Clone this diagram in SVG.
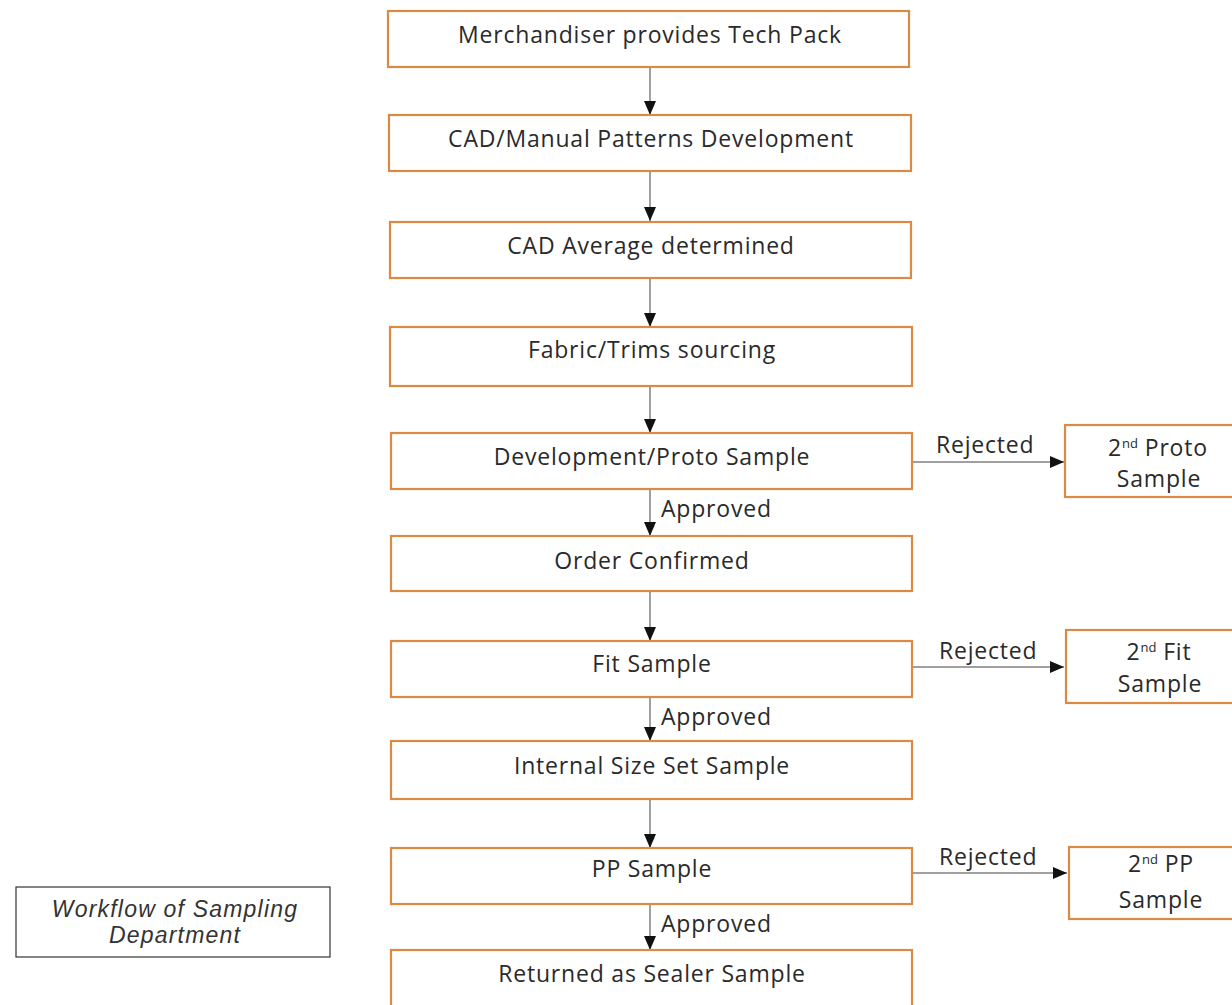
<svg xmlns="http://www.w3.org/2000/svg" width="1232" height="1005" viewBox="0 0 1232 1005">
<defs>
<style>
.box{fill:#fff;stroke:#DB8A44;stroke-width:2.2}
.t{font-family:"Open Sans","Noto Sans",sans-serif;font-size:23px;letter-spacing:0.8px;fill:#2a2a2a;text-anchor:middle}
.lbl{font-family:"Open Sans","Noto Sans",sans-serif;font-size:23px;letter-spacing:0.8px;fill:#2a2a2a}
.ln{stroke:#808080;stroke-width:1.5;fill:none}
.cap{font-family:"Liberation Sans",Arial,sans-serif;font-size:23px;letter-spacing:1.2px;font-style:italic;fill:#333;text-anchor:middle}
</style>
<marker id="ahd" viewBox="0 0 14 12" refX="14" refY="6" markerWidth="14" markerHeight="12" markerUnits="userSpaceOnUse" orient="auto">
<path d="M0,0 L14,6 L0,12 z" fill="#111"/>
</marker>
</defs>
<rect width="1232" height="1005" fill="#fff"/>
<g id="connectors">
<line class="ln" x1="650" y1="67" x2="650" y2="115" marker-end="url(#ahd)"/>
<line class="ln" x1="650" y1="171" x2="650" y2="221" marker-end="url(#ahd)"/>
<line class="ln" x1="650" y1="278" x2="650" y2="327" marker-end="url(#ahd)"/>
<line class="ln" x1="650" y1="386" x2="650" y2="433" marker-end="url(#ahd)"/>
<line class="ln" x1="650" y1="489" x2="650" y2="536" marker-end="url(#ahd)"/>
<line class="ln" x1="650" y1="591" x2="650" y2="641" marker-end="url(#ahd)"/>
<line class="ln" x1="650" y1="697" x2="650" y2="741" marker-end="url(#ahd)"/>
<line class="ln" x1="650" y1="799" x2="650" y2="848" marker-end="url(#ahd)"/>
<line class="ln" x1="650" y1="904" x2="650" y2="950" marker-end="url(#ahd)"/>
<line class="ln" x1="912" y1="462" x2="1064" y2="462" marker-end="url(#ahd)"/>
<line class="ln" x1="912" y1="667" x2="1064" y2="667" marker-end="url(#ahd)"/>
<line class="ln" x1="912" y1="873" x2="1067" y2="873" marker-end="url(#ahd)"/>
<text class="lbl" x="661" y="517">Approved</text>
<text class="lbl" x="661" y="725">Approved</text>
<text class="lbl" x="661" y="932">Approved</text>
<text class="lbl" x="936" y="453">Rejected</text>
<text class="lbl" x="939" y="659">Rejected</text>
<text class="lbl" x="939" y="865">Rejected</text>
</g>
<g id="n1"><rect class="box" x="388" y="11" width="521" height="56"/><text class="t" x="650" y="43">Merchandiser provides Tech Pack</text></g>
<g id="n2"><rect class="box" x="389" y="115" width="522" height="56"/><text class="t" x="651" y="147">CAD/Manual Patterns Development</text></g>
<g id="n3"><rect class="box" x="390" y="222" width="521" height="56"/><text class="t" x="651" y="254">CAD Average determined</text></g>
<g id="n4"><rect class="box" x="390" y="327" width="522" height="59"/><text class="t" x="652" y="358">Fabric/Trims sourcing</text></g>
<g id="n5"><rect class="box" x="391" y="433" width="521" height="56"/><text class="t" x="652" y="465">Development/Proto Sample</text></g>
<g id="n6"><rect class="box" x="391" y="536" width="521" height="55"/><text class="t" x="652" y="569">Order Confirmed</text></g>
<g id="n7"><rect class="box" x="391" y="641" width="521" height="56"/><text class="t" x="652" y="672">Fit Sample</text></g>
<g id="n8"><rect class="box" x="391" y="741" width="521" height="58"/><text class="t" x="652" y="774">Internal Size Set Sample</text></g>
<g id="n9"><rect class="box" x="391" y="848" width="521" height="56"/><text class="t" x="652" y="877">PP Sample</text></g>
<g id="n10"><rect class="box" x="391" y="950" width="521" height="60"/><text class="t" x="652" y="982">Returned as Sealer Sample</text></g>
<g id="s1"><rect class="box" x="1065" y="425" width="172" height="72"/><text class="t" x="1158" y="456">2<tspan font-size="13" letter-spacing="0" dy="-8">nd</tspan><tspan dy="8"> Proto</tspan></text><text class="t" x="1159" y="487">Sample</text></g>
<g id="s2"><rect class="box" x="1066" y="630" width="172" height="73"/><text class="t" x="1159" y="660">2<tspan font-size="13" letter-spacing="0" dy="-8">nd</tspan><tspan dy="8"> Fit</tspan></text><text class="t" x="1160" y="692">Sample</text></g>
<g id="s3"><rect class="box" x="1069" y="847" width="172" height="72"/><text class="t" x="1161" y="872">2<tspan font-size="13" letter-spacing="0" dy="-8">nd</tspan><tspan dy="8"> PP</tspan></text><text class="t" x="1161" y="908">Sample</text></g>
<g id="caption"><rect x="16" y="887" width="314" height="70" fill="#fff" stroke="#333" stroke-width="1.2"/><text class="cap" x="175" y="917">Workflow of Sampling</text><text class="cap" x="175" y="943">Department</text></g>
</svg>
